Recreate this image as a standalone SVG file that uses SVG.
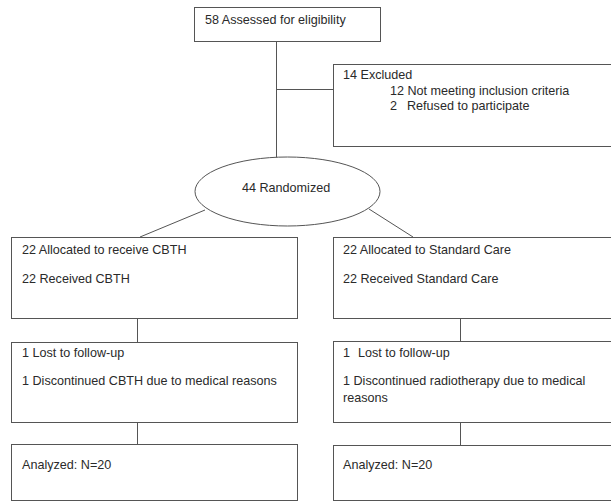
<svg xmlns="http://www.w3.org/2000/svg" width="611" height="502" viewBox="0 0 611 502">
<style>
.box{fill:#fff;stroke:#555;stroke-width:1}
.ln{stroke:#555;stroke-width:1;fill:none}
text{font-family:"Liberation Sans",Arial,sans-serif;font-size:12.6px;fill:#2a2a2a}
</style>
<rect width="611" height="502" fill="#fff"/>
<g id="connectors">
<line class="ln" x1="276.5" y1="42" x2="276.5" y2="158"/>
<line class="ln" x1="276.5" y1="89.5" x2="333" y2="89.5"/>
<line class="ln" x1="205" y1="210" x2="140" y2="237"/>
<line class="ln" x1="369" y1="209" x2="413" y2="237"/>
<line class="ln" x1="137.5" y1="318" x2="137.5" y2="342"/>
<line class="ln" x1="460.5" y1="318" x2="460.5" y2="341"/>
<line class="ln" x1="137.5" y1="422" x2="137.5" y2="444"/>
<line class="ln" x1="460.5" y1="422" x2="460.5" y2="445"/>
</g>
<g id="assessed">
<rect class="box" x="194.5" y="7.5" width="186" height="34"/>
<text x="205" y="24">58 Assessed for eligibility</text>
</g>
<g id="excluded">
<rect class="box" x="333.5" y="64.5" width="290" height="82"/>
<text x="343" y="79">14 Excluded</text>
<text x="390" y="95">12 Not meeting inclusion criteria</text>
<text x="390" y="110">2</text>
<text x="407" y="110">Refused to participate</text>
</g>
<g id="randomized">
<ellipse class="box" cx="287.5" cy="191.5" rx="92.5" ry="34.5"/>
<text x="242" y="192">44 Randomized</text>
</g>
<g id="alloc-cbth">
<rect class="box" x="11.5" y="237.5" width="286" height="81"/>
<text x="22" y="254">22 Allocated to receive CBTH</text>
<text x="22" y="283">22 Received CBTH</text>
</g>
<g id="alloc-sc">
<rect class="box" x="333.5" y="237.5" width="290" height="81"/>
<text x="343" y="254">22 Allocated to Standard Care</text>
<text x="343" y="283">22 Received Standard Care</text>
</g>
<g id="followup-cbth">
<rect class="box" x="11.5" y="342.5" width="286" height="80"/>
<text x="22" y="357">1 Lost to follow-up</text>
<text x="22" y="385">1 Discontinued CBTH due to medical reasons</text>
</g>
<g id="followup-sc">
<rect class="box" x="333.5" y="341.5" width="290" height="81"/>
<text x="343" y="357">1</text>
<text x="358" y="357">Lost to follow-up</text>
<text x="343" y="385">1 Discontinued radiotherapy due to medical</text>
<text x="343" y="402">reasons</text>
</g>
<g id="analyzed-cbth">
<rect class="box" x="11.5" y="444.5" width="286" height="56"/>
<text x="22" y="469">Analyzed: N=20</text>
</g>
<g id="analyzed-sc">
<rect class="box" x="333.5" y="445.5" width="290" height="55"/>
<text x="343" y="469">Analyzed: N=20</text>
</g>
</svg>
